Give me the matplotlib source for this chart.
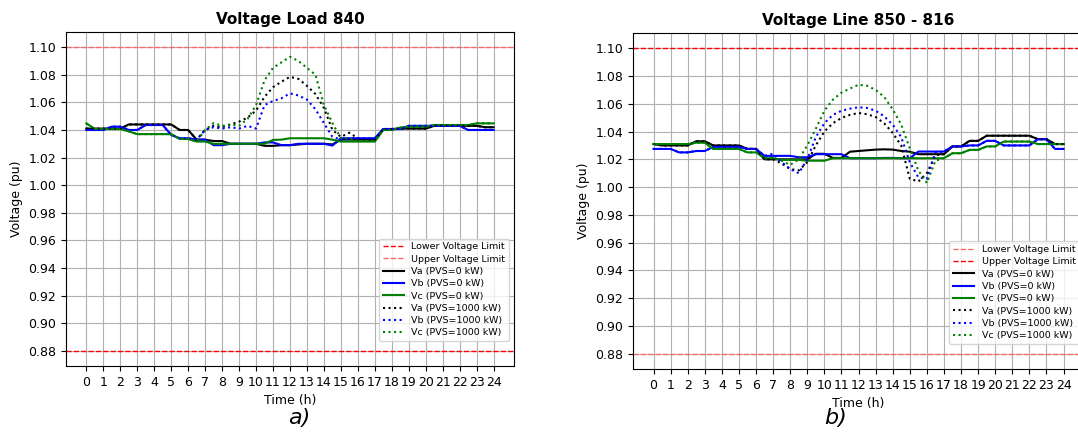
import matplotlib.pyplot as plt
import numpy as np

# half-hour time grid, 0 .. 24 h
hours = np.arange(0, 24.5, 0.5)
v_min, v_max = 0.88, 1.10

# --- Load 840, no PV ---
load_va = [1.041, 1.041, 1.041, 1.041, 1.041, 1.044, 1.044, 1.044, 1.044, 1.044,
           1.044, 1.040, 1.040, 1.033, 1.033, 1.032, 1.032, 1.030, 1.030, 1.030,
           1.030, 1.0285, 1.0285, 1.029, 1.029, 1.0295, 1.030, 1.030, 1.030, 1.0295,
           1.033, 1.033, 1.033, 1.033, 1.033, 1.0407, 1.0407, 1.041, 1.041, 1.041,
           1.041, 1.043, 1.043, 1.043, 1.043, 1.043, 1.043, 1.042, 1.042]
load_vb = [1.040, 1.040, 1.040, 1.0424, 1.0424, 1.040, 1.040, 1.0436, 1.0436, 1.0436,
           1.0364, 1.034, 1.034, 1.033, 1.033, 1.029, 1.029, 1.030, 1.030, 1.030,
           1.030, 1.031, 1.031, 1.029, 1.029, 1.030, 1.030, 1.030, 1.030, 1.0287,
           1.034, 1.034, 1.034, 1.034, 1.034, 1.0407, 1.0407, 1.0407, 1.043, 1.043,
           1.043, 1.043, 1.043, 1.043, 1.043, 1.040, 1.040, 1.040, 1.040]
load_vc = [1.0448, 1.0407, 1.0407, 1.0407, 1.0407, 1.039, 1.037, 1.037, 1.037, 1.037,
           1.037, 1.0335, 1.0335, 1.0316, 1.0316, 1.030, 1.030, 1.030, 1.030, 1.030,
           1.030, 1.030, 1.0328, 1.033, 1.034, 1.034, 1.034, 1.034, 1.034, 1.033,
           1.0316, 1.0316, 1.0316, 1.0316, 1.0316, 1.040, 1.040, 1.0417, 1.0424, 1.0424,
           1.0424, 1.0436, 1.0436, 1.0436, 1.0436, 1.0436, 1.0448, 1.0448, 1.0448]

# --- Load 840 with 1000 kW PV (differs from the base case between 7 h and 17 h) ---
pv_window = slice(14, 35)
load_va_pv_mid = [1.040, 1.043, 1.042, 1.044, 1.046, 1.049, 1.054, 1.064, 1.071, 1.075,
                  1.0785, 1.077, 1.072, 1.066, 1.056, 1.040, 1.035, 1.038, 1.034, 1.033, 1.033]
load_vb_pv_mid = [1.040, 1.042, 1.041, 1.042, 1.041, 1.043, 1.041, 1.058, 1.061, 1.063,
                  1.0665, 1.065, 1.062, 1.055, 1.045, 1.035, 1.033, 1.034, 1.034, 1.034, 1.034]
load_vc_pv_mid = [1.040, 1.045, 1.043, 1.044, 1.043, 1.048, 1.058, 1.076, 1.085, 1.089,
                  1.093, 1.090, 1.085, 1.080, 1.058, 1.045, 1.034, 1.034, 1.032, 1.032, 1.032]

# --- Line 850 - 816, no PV ---
line_va = [1.031, 1.030, 1.030, 1.030, 1.030, 1.033, 1.033, 1.030, 1.030, 1.030,
           1.030, 1.0275, 1.0275, 1.020, 1.020, 1.020, 1.020, 1.020, 1.020, 1.024,
           1.024, 1.021, 1.021, 1.0255, 1.026, 1.0265, 1.027, 1.0272, 1.027, 1.026,
           1.0255, 1.0237, 1.0237, 1.0237, 1.0237, 1.0293, 1.0293, 1.0333, 1.0333, 1.037,
           1.037, 1.037, 1.037, 1.037, 1.037, 1.0345, 1.0345, 1.031, 1.031]
line_vb = [1.0275, 1.0275, 1.0275, 1.025, 1.025, 1.026, 1.026, 1.029, 1.029, 1.029,
           1.029, 1.0275, 1.0275, 1.0225, 1.0225, 1.0225, 1.0225, 1.0215, 1.0215, 1.0237,
           1.0237, 1.0237, 1.0237, 1.0208, 1.0208, 1.0208, 1.0208, 1.021, 1.021, 1.0208,
           1.0208, 1.0256, 1.0256, 1.0256, 1.0256, 1.0293, 1.0293, 1.030, 1.030, 1.0333,
           1.0333, 1.030, 1.030, 1.030, 1.030, 1.0345, 1.0345, 1.0275, 1.0275]
line_vc = [1.031, 1.031, 1.031, 1.031, 1.031, 1.032, 1.032, 1.0275, 1.0275, 1.0275,
           1.0275, 1.025, 1.025, 1.0208, 1.0208, 1.0196, 1.0196, 1.0196, 1.019, 1.019,
           1.019, 1.0208, 1.0208, 1.0208, 1.0208, 1.0208, 1.0208, 1.0208, 1.0208, 1.0208,
           1.0208, 1.0208, 1.0208, 1.0208, 1.0208, 1.0244, 1.0244, 1.0268, 1.0268, 1.0293,
           1.0293, 1.0328, 1.0328, 1.0328, 1.0328, 1.031, 1.031, 1.031, 1.031]

# --- Line 850 - 816 with 1000 kW PV ---
line_va_pv_mid = [1.020, 1.017, 1.013, 1.012, 1.018, 1.030, 1.040, 1.046, 1.0498, 1.052,
                  1.0534, 1.0525, 1.0505, 1.046, 1.039, 1.030, 1.006, 1.004, 1.010, 1.023, 1.0237]
line_vb_pv_mid = [1.024, 1.018, 1.013, 1.010, 1.020, 1.036, 1.046, 1.052, 1.055, 1.0565,
                  1.0575, 1.057, 1.055, 1.051, 1.045, 1.036, 1.018, 1.007, 1.006, 1.025, 1.0256]
line_vc_pv_mid = [1.021, 1.019, 1.016, 1.020, 1.030, 1.042, 1.055, 1.063, 1.068, 1.071,
                  1.0737, 1.073, 1.070, 1.065, 1.056, 1.045, 1.028, 1.012, 1.003, 1.019, 1.0208]


def with_pv(base, mid):
    out = np.array(base, dtype=float)
    out[pv_window] = mid
    return out


def draw_panel(ax, title, base, pv, lower_col, upper_col):
    ax.axhline(v_min, color=lower_col, linestyle='--', linewidth=1, label='Lower Voltage Limit')
    ax.axhline(v_max, color=upper_col, linestyle='--', linewidth=1, label='Upper Voltage Limit')
    colors = ['black', 'blue', 'green']
    names = ['Va', 'Vb', 'Vc']
    for v, c, n in zip(base, colors, names):
        ax.plot(hours, v, color=c, linewidth=1.5, label=n + ' (PVS=0 kW)')
    for v, c, n in zip(pv, colors, names):
        ax.plot(hours, v, color=c, linestyle=':', linewidth=1.5, label=n + ' (PVS=1000 kW)')
    ax.set_title(title, fontweight='bold', fontsize=11)
    ax.set_xlabel('Time (h)', fontsize=9)
    ax.set_ylabel('Voltage (pu)', fontsize=9)
    ax.set_xticks(range(0, 25))
    ax.set_yticks(np.arange(0.88, 1.101, 0.02))
    ax.tick_params(labelsize=9)
    ax.grid(True)
    ax.legend(loc='lower right', bbox_to_anchor=(1.0, 0.06), fontsize=6.8,
              handlelength=2.2, labelspacing=0.35, borderpad=0.4)


fig = plt.figure(figsize=(10.78, 4.34), dpi=100)
ax1 = fig.add_axes([0.0612, 0.1567, 0.4156, 0.7696])
ax2 = fig.add_axes([0.5872, 0.1498, 0.4184, 0.7742])

draw_panel(ax1, 'Voltage Load 840',
           [load_va, load_vb, load_vc],
           [with_pv(load_va, load_va_pv_mid), with_pv(load_vb, load_vb_pv_mid),
            with_pv(load_vc, load_vc_pv_mid)],
           'red', '#ff6666')
draw_panel(ax2, 'Voltage Line 850 - 816',
           [line_va, line_vb, line_vc],
           [with_pv(line_va, line_va_pv_mid), with_pv(line_vb, line_vb_pv_mid),
            with_pv(line_vc, line_vc_pv_mid)],
           '#ff6666', 'red')

fig.text(0.278, 0.022, 'a)', fontsize=16, style='italic', ha='center')
fig.text(0.775, 0.022, 'b)', fontsize=16, style='italic', ha='center')

fig.savefig('out.png', dpi=100)
